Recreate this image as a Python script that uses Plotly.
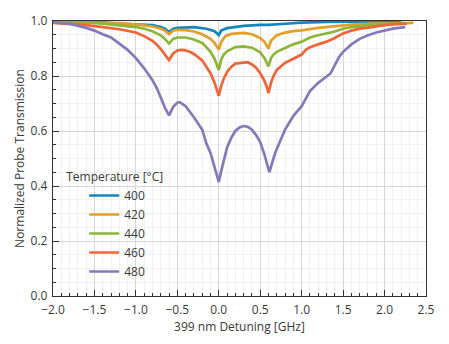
import plotly.graph_objects as go

# Probe transmission vs. 399 nm detuning for several oven temperatures
detuning_400 = [-2.0, -1.4, -1.2, -1.0, -0.8, -0.7, -0.65, -0.6, -0.55, -0.5, -0.3, -0.15, -0.05,
                0.0, 0.03, 0.1, 0.3, 0.5, 0.6, 0.8, 1.0, 1.3, 1.6, 2.0, 2.2]
transmission_400 = [0.998, 0.995, 0.990, 0.988, 0.985, 0.978, 0.972, 0.960, 0.972, 0.975, 0.978, 0.972, 0.963,
                    0.949, 0.965, 0.974, 0.982, 0.986, 0.986, 0.990, 0.994, 0.997, 0.998, 0.999, 0.999]

detuning_420 = [-2.0, -1.4, -1.2, -1.0, -0.9, -0.8, -0.7, -0.65, -0.6, -0.55, -0.5, -0.4, -0.3, -0.2, -0.1,
                -0.05, 0.0, 0.03, 0.08, 0.15, 0.3, 0.4, 0.5, 0.55, 0.6, 0.63, 0.7, 0.8, 0.9, 1.0, 1.2,
                1.4, 1.6, 1.8, 2.0, 2.2, 2.35]
transmission_420 = [0.997, 0.995, 0.992, 0.988, 0.984, 0.980, 0.972, 0.965, 0.952, 0.965, 0.968, 0.967, 0.962,
                    0.952, 0.935, 0.920, 0.896, 0.925, 0.945, 0.953, 0.957, 0.952, 0.938, 0.925, 0.900,
                    0.928, 0.948, 0.958, 0.963, 0.966, 0.975, 0.982, 0.987, 0.990, 0.992, 0.993, 0.993]

detuning_440 = [-2.0, -1.6, -1.4, -1.2, -1.0, -0.9, -0.8, -0.7, -0.65, -0.6, -0.55, -0.5, -0.45, -0.4, -0.3,
                -0.2, -0.15, -0.1, -0.05, 0.0, 0.03, 0.06, 0.1, 0.2, 0.3, 0.4, 0.5, 0.55, 0.6, 0.63,
                0.66, 0.7, 0.8, 0.9, 1.0, 1.1, 1.2, 1.3, 1.4, 1.5, 1.6, 1.8, 2.0, 2.2, 2.25]
transmission_440 = [0.996, 0.995, 0.990, 0.985, 0.978, 0.972, 0.963, 0.948, 0.935, 0.918, 0.935, 0.940, 0.941,
                    0.940, 0.933, 0.920, 0.905, 0.888, 0.862, 0.822, 0.860, 0.878, 0.890, 0.905, 0.908,
                    0.903, 0.886, 0.866, 0.835, 0.865, 0.878, 0.888, 0.902, 0.915, 0.925, 0.940, 0.948,
                    0.955, 0.962, 0.972, 0.978, 0.985, 0.990, 0.992, 0.992]

detuning_460 = [-2.0, -1.8, -1.6, -1.4, -1.2, -1.0, -0.9, -0.8, -0.75, -0.7, -0.65, -0.6, -0.55, -0.5, -0.45,
                -0.4, -0.35, -0.3, -0.2, -0.15, -0.1, -0.05, -0.02, 0.0, 0.03, 0.06, 0.1, 0.15, 0.2,
                0.3, 0.35, 0.4, 0.45, 0.5, 0.55, 0.58, 0.6, 0.63, 0.66, 0.7, 0.8, 0.9, 1.0, 1.05, 1.1,
                1.2, 1.3, 1.4, 1.5, 1.6, 1.7, 1.8, 1.9, 2.0, 2.1, 2.2, 2.27]
transmission_460 = [0.993, 0.990, 0.985, 0.978, 0.970, 0.958, 0.945, 0.928, 0.915, 0.898, 0.878, 0.858, 0.882,
                    0.893, 0.895, 0.893, 0.888, 0.880, 0.857, 0.835, 0.810, 0.775, 0.748, 0.728, 0.765,
                    0.790, 0.815, 0.833, 0.845, 0.850, 0.850, 0.842, 0.830, 0.810, 0.783, 0.760, 0.738,
                    0.775, 0.800, 0.822, 0.848, 0.863, 0.878, 0.895, 0.905, 0.915, 0.925, 0.938, 0.955,
                    0.965, 0.972, 0.976, 0.981, 0.985, 0.988, 0.990, 0.990]

detuning_480 = [-2.0, -1.8, -1.6, -1.5, -1.4, -1.3, -1.2, -1.1, -1.0, -0.9, -0.8, -0.75, -0.7, -0.65, -0.6,
                -0.55, -0.5, -0.47, -0.4, -0.3, -0.2, -0.15, -0.1, -0.05, -0.02, 0.0, 0.03, 0.06, 0.1,
                0.15, 0.2, 0.25, 0.3, 0.35, 0.4, 0.45, 0.5, 0.55, 0.58, 0.61, 0.64, 0.68, 0.75, 0.8,
                0.9, 1.0, 1.1, 1.2, 1.3, 1.35, 1.4, 1.45, 1.5, 1.6, 1.7, 1.8, 1.9, 2.0, 2.1, 2.2, 2.25]
transmission_480 = [0.995, 0.990, 0.975, 0.965, 0.952, 0.940, 0.918, 0.895, 0.865, 0.828, 0.785, 0.757, 0.722,
                    0.685, 0.657, 0.688, 0.703, 0.705, 0.690, 0.650, 0.605, 0.555, 0.520, 0.470, 0.435,
                    0.415, 0.455, 0.495, 0.540, 0.575, 0.600, 0.613, 0.618, 0.615, 0.605, 0.585, 0.560,
                    0.515, 0.480, 0.450, 0.480, 0.520, 0.570, 0.605, 0.655, 0.690, 0.745, 0.775, 0.798,
                    0.810, 0.840, 0.868, 0.888, 0.915, 0.935, 0.948, 0.958, 0.965, 0.972, 0.976, 0.978]

temperatures = ["400", "420", "440", "460", "480"]
colors = ["#1386c0", "#e39f2a", "#8db536", "#ee6638", "#8679bb"]

series = [
    (detuning_400, transmission_400),
    (detuning_420, transmission_420),
    (detuning_440, transmission_440),
    (detuning_460, transmission_460),
    (detuning_480, transmission_480),
]

font_family = "Open Sans"
text_color = "#3a3a3a"

fig = go.Figure()
for name, color, (xs, ys) in zip(temperatures, colors, series):
    fig.add_trace(go.Scatter(
        x=xs, y=ys, mode="lines", name=name,
        line=dict(color=color, width=2.7),
    ))

axis_common = dict(
    showline=True, linecolor="#333333", linewidth=1.3, mirror=True,
    ticks="inside", ticklen=6, tickwidth=1, tickcolor="#333333",
    showgrid=True, gridcolor="#d6d6d6", gridwidth=1.2,
    zeroline=False,
    tickfont=dict(family=font_family, size=12, color=text_color),
)

fig.update_layout(
    width=449, height=344,
    margin=dict(l=53, r=23, t=18, b=48),
    paper_bgcolor="white", plot_bgcolor="white",
    font=dict(family=font_family, size=12, color=text_color),
    xaxis=dict(
        range=[-2.0, 2.5], dtick=0.5, tick0=-2.0, tickformat=".1f",
        ticklabelstandoff=2,
        minor=dict(dtick=0.1, ticks="inside", ticklen=3, tickcolor="#333333",
                   showgrid=True, gridcolor="#f1f1f1", gridwidth=1),
        title=dict(text="399 nm Detuning [GHz]", standoff=0,
                   font=dict(family=font_family, size=12, color=text_color)),
        **axis_common,
    ),
    yaxis=dict(
        range=[0.0, 1.0], dtick=0.2, tick0=0.0, tickformat=".1f",
        ticklabelstandoff=2,
        minor=dict(dtick=0.05, ticks="inside", ticklen=3, tickcolor="#333333",
                   showgrid=True, gridcolor="#f1f1f1", gridwidth=1),
        title=dict(text="Normalized Probe Transmission", standoff=3,
                   font=dict(family=font_family, size=12, color=text_color)),
        **axis_common,
    ),
    legend=dict(
        x=0.03, y=0.475, xanchor="left", yanchor="top",
        bgcolor="rgba(0,0,0,0)",
        title=dict(text="Temperature [°C]", font=dict(family=font_family, size=12, color=text_color)),
        font=dict(family=font_family, size=12, color=text_color),
        indentation=20,
        tracegroupgap=0,
    ),
    showlegend=True,
)

fig.write_html("out.html")
